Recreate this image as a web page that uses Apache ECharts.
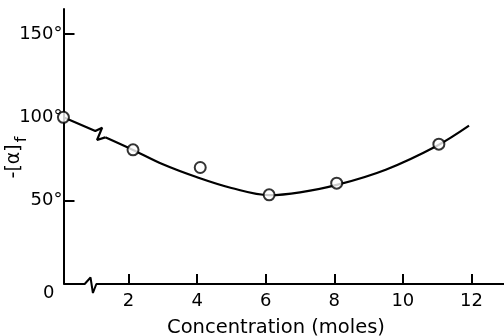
<!DOCTYPE html>
<html><head><meta charset="utf-8">
<script src="https://cdn.jsdelivr.net/npm/echarts@6/dist/echarts.min.js"></script>
<style>html,body{margin:0;padding:0;background:#fff}#c{width:504px;height:336px}</style>
</head><body><div id="c"></div>
<script>
// measured points (Concentration in moles, -[α]f in degrees)
const pointX = [0.1, 2.13, 4.09, 6.1, 8.07, 11.05];
const pointY = [100, 80.5, 69.9, 53.5, 60.5, 83.9];
// drawn fit curve: straight start with break mark, then smooth part
const breakCurveX = [0.1, 1.03, 1.23, 1.08, 1.32];
const breakCurveY = [100, 91.8, 93.8, 86.4, 88.0];
const curveX = [1.32, 2.13, 3.0, 4.0, 5.0, 6.1, 7.0, 8.1, 9.5, 11.0, 11.93];
const curveY = [88.0, 80.4, 71.8, 64.0, 57.6, 53.3, 55.0, 59.6, 68.6, 83.0, 95.0];
// x axis baseline with break mark
const baseX = [0.11, 0.72, 0.89, 0.96, 1.06, 12.95];
const baseY = [0, 0, 3.9, -5.4, 0, 0];
const xTicks = [2, 4, 6, 8, 10, 12];
const yTicks = [0, 50, 100, 150];
const yTickMarks = [50, 150];

const zip = (a, b) => a.map((v, i) => [v, b[i]]);
const ink = '#000';
const font = 'DejaVu Sans';

const chart = echarts.init(document.getElementById('c'), null, {renderer: 'canvas'});
chart.setOption({
  animation: false,
  backgroundColor: '#fff',
  grid: {left: 60, right: 0, top: 9, bottom: 52, containLabel: false, outerBoundsMode: 'none'},
  xAxis: {
    type: 'value', min: 0, max: 12.95, interval: 2,
    axisLine: {show: false},
    axisTick: {show: true, inside: true, length: 10, lineStyle: {color: ink, width: 2},
      customValues: xTicks},
    splitLine: {show: false},
    axisLabel: {
      margin: 8, color: ink, fontFamily: font, fontSize: 18,
      customValues: xTicks
    },
    name: 'Concentration (moles)', nameLocation: 'middle', nameGap: 34, nameMoveOverlap: false,
    nameTextStyle: {color: ink, fontFamily: font, fontSize: 19.5, padding: [0, 12, 0, 0]}
  },
  yAxis: {
    type: 'value', min: 0, max: 165, interval: 50, offset: -3.5,
    axisLine: {show: true, onZero: false, lineStyle: {color: ink, width: 2}},
    axisTick: {show: true, inside: true, length: 11, lineStyle: {color: ink, width: 2},
      customValues: yTickMarks},
    splitLine: {show: false},
    axisLabel: {
      margin: 1, color: ink, fontFamily: font, fontSize: 18,
      customValues: yTicks,
      formatter: v => (v === 0 ? '{z|0}' : v + '°'),
      rich: {z: {color: ink, fontFamily: font, fontSize: 18, padding: [18, 8, 0, 0]}}
    },
    name: '-[α]{s|f}', nameLocation: 'middle', nameGap: 34, nameRotate: 90, nameMoveOverlap: false,
    nameTextStyle: {color: ink, fontFamily: font, fontSize: 19, padding: [0, 22, 0, 0],
      rich: {s: {color: ink, fontFamily: font, fontSize: 16, padding: [14, 0, 0, 2]}}}
  },
  series: [
    {type: 'line', data: zip(baseX, baseY), symbol: 'none', clip: false, silent: true,
     lineStyle: {color: ink, width: 2}},
    {type: 'line', data: zip(breakCurveX, breakCurveY), symbol: 'none', silent: true,
     lineStyle: {color: ink, width: 2.2}},
    {type: 'line', data: zip(curveX, curveY), symbol: 'none', smooth: 0.35, silent: true,
     lineStyle: {color: ink, width: 2.2}},
    {type: 'scatter', data: zip(pointX, pointY), symbol: 'circle', symbolSize: 11, clip: false,
     itemStyle: {color: '#fff', borderColor: ink, borderWidth: 2}, z: 5}
  ]
});
</script></body></html>
